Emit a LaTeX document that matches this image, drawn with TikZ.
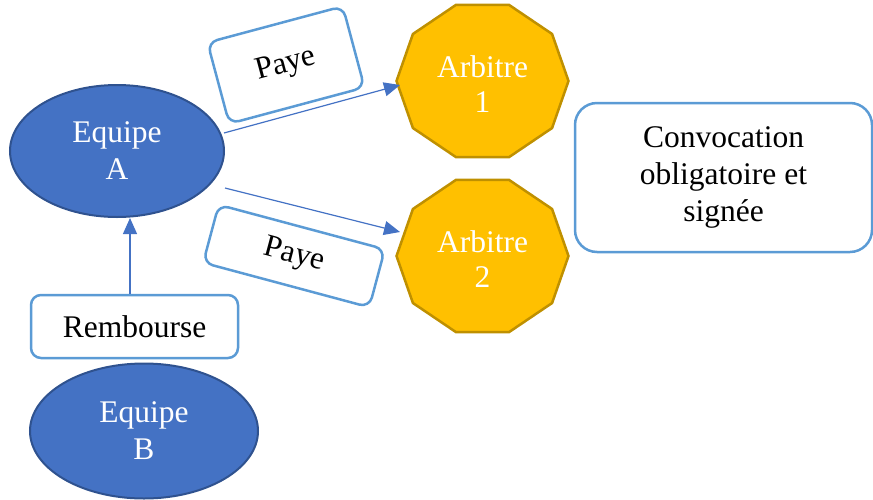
\documentclass[tikz,border=0pt]{standalone}
\usepackage{fontspec}
\setmainfont{Liberation Serif}
\usetikzlibrary{calc,shapes.geometric,arrows.meta}
\definecolor{bleuequipe}{HTML}{4472C4}
\definecolor{bleubord}{HTML}{2F528F}
\definecolor{orarbitre}{HTML}{FFC000}
\definecolor{orbord}{HTML}{BF9000}
\definecolor{bleucadre}{HTML}{5B9BD5}

\begin{document}
\begin{tikzpicture}[x=1pt, y=-1pt,
 equipe/.style={ellipse, fill=bleuequipe, draw=bleubord, line width=2pt, inner sep=0pt, text=white, align=center, font=\fontsize{31.5}{37}\selectfont},
 cadre/.style={draw=bleucadre, line width=2.5pt, fill=white, rounded corners=10pt, inner sep=0pt, align=center, font=\fontsize{31.5}{37}\selectfont},
 arbitre/.style={fill=orarbitre, draw=orbord, line width=2.5pt},
 arbtext/.style={text=white, align=center, font=\fontsize{31.5}{35}\selectfont},
 fleche/.style={draw=bleuequipe, line width=1.2pt, -{Triangle[length=16pt,width=14pt]}}]
\useasboundingbox (0,0) rectangle (873,499);

% equipes
\node[equipe, minimum width=214, minimum height=132] (ea) at (117,151) {Equipe\\A};
\node[equipe, minimum width=228, minimum height=135] (eb) at (144,431) {Equipe\\B};
\node[cadre, minimum width=207, minimum height=63] (remb) at (134.5,326.5) {Rembourse};
\coordinate (r0) at ($(remb.north)+(-4.5,0)$);
\draw[fleche] (r0) -- (r0 |- ea.south);

% arbitres
\foreach \n/\y in {1/81, 2/256} {
 \coordinate (arb\n) at (482.5,\y);
 \draw[arbitre, shift={(arb\n)}] (0:86 and 80) \foreach \a in {36,72,...,324} { -- (\a:86 and 80)} -- cycle;
 \node[arbtext] (a\n) at ($(arb\n)+(0,3)$) {Arbitre\\\n};
}

% paiements
\node[cadre, minimum width=140, minimum height=84, rotate=15] (paye1) at (286,65) {Paye};
\node[cadre, minimum width=172, minimum height=60, rotate=-15] (paye2) at (294,256) {Paye};
\coordinate (dep1) at (224,133);
\coordinate (dep2) at (225,188);
\coordinate (arr1) at (400,85);
\coordinate (arr2) at (400,232);
\draw[fleche] (dep1) -- (arr1);
\draw[fleche] (dep2) -- (arr2);

\node[cadre, rounded corners=22pt, minimum width=297, minimum height=149] (conv) at (723.5,177.5) {Convocation\\obligatoire et\\signée};
\end{tikzpicture}
\end{document}
